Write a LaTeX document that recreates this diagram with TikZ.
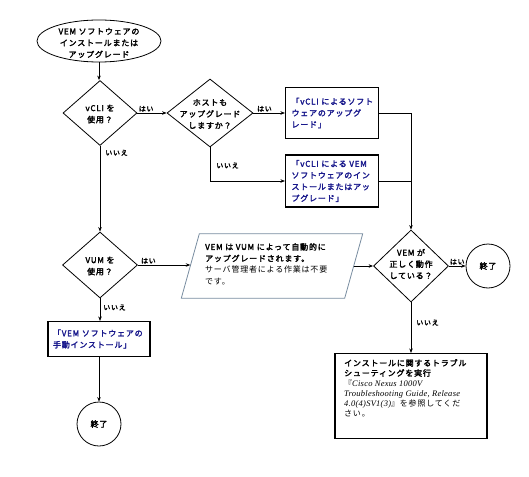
\documentclass[tikz,border=0pt]{standalone}
\usepackage{fontspec}
\setmainfont{Noto Sans CJK JP}[AutoFakeBold=2.5,LetterSpace=10]
\newfontfamily\lserif{Liberation Serif}[LetterSpace=3]
\usetikzlibrary{shapes.geometric,arrows.meta}
\definecolor{boxblue}{RGB}{25,25,140}
\definecolor{paragray}{RGB}{120,140,160}
\begin{document}
\begin{tikzpicture}[x=1pt,y=-1pt,
  txt/.style={font=\fontsize{8}{11.5}\selectfont\bfseries, inner sep=0pt},
  dia/.style={diamond, draw, line width=0.8pt, inner sep=0pt},
  box/.style={rectangle, draw, line width=1.1pt, inner ysep=0pt, inner xsep=6pt, align=left, text=boxblue, font=\fontsize{8}{11.5}\selectfont\bfseries},
  term/.style={circle, draw, line width=0.8pt, minimum size=44pt, inner sep=0pt, font=\fontsize{8}{10}\selectfont\bfseries},
  ln/.style={line width=0.7pt},
  arr/.style={ln, -{Stealth[length=4.5pt,width=3.5pt]}},
  lab/.style={font=\fontsize{7}{8}\selectfont\bfseries, inner sep=1pt}
]
\useasboundingbox (0,0) rectangle (529,476);

% start
\node[ellipse, draw, line width=0.8pt, minimum width=124pt, minimum height=42pt, inner sep=0pt] (start) at (99,41) {};
\node[txt, align=center] (starttext) at (99,43) {VEM~ソフトウェアの\\インストールまたは\\アップグレード};

% decisions
\node[dia, minimum width=74pt, minimum height=65pt] (d1) at (100,113) {};
\node[txt, align=center] (d1t) at (100,114) {vCLI~を\\使用？};
\node[dia, minimum width=86pt, minimum height=68pt] (d2) at (210,113) {};
\node[txt, align=center] (d2t) at (210,114) {ホストも\\アップグレード\\しますか？};
\node[dia, minimum width=75pt, minimum height=66pt] (d3) at (100,265) {};
\node[txt, align=center] (d3t) at (100,266) {VUM~を\\使用？};
\node[dia, minimum width=75pt, minimum height=72pt] (d4) at (411,266) {};
\node[txt, align=center] (d4t) at (411,264) {VEM~が\\正しく動作\\している？};

% boxes
\node[box, minimum width=93pt, minimum height=51pt, text width=81pt] (b1) at (332,113) {「vCLI~によるソフト\\ウェアのアップグ\\レード」};
\node[box, minimum width=93pt, minimum height=52pt, text width=81pt] (b2) at (332,181) {「vCLI~による~VEM\\ソフトウェアのイン\\ストールまたはアッ\\プグレード」};
\node[box, minimum width=102pt, minimum height=35pt, text width=92pt, inner xsep=5pt] (mb) at (99,339) {「VEM~ソフトウェアの\\手動インストール」};
\node[rectangle, draw, line width=1.1pt, minimum width=152pt, minimum height=85pt, inner sep=0pt] (ts) at (411,396) {};
\node[txt, anchor=north west, align=left, font=\fontsize{8}{10}\selectfont] (tst) at (344,359) {\bfseries インストールに関するトラブル\\\bfseries シューティングを実行\\『{\lserif\itshape\fontsize{8.5}{10}\selectfont Cisco Nexus 1000V}\\{\lserif\itshape\fontsize{8.5}{10}\selectfont Troubleshooting Guide, Release}\\{\lserif\itshape\fontsize{8.5}{10}\selectfont 4.0(4)SV1(3)}』を参照してくだ\\さい。};

% parallelogram
\node[minimum width=163pt, minimum height=64pt, inner sep=0pt] (para) at (272,266) {};
\draw[paragray, line width=0.8pt] ([xshift=-9pt]para.south west) -- ([xshift=9pt]para.north west) -- ([xshift=9pt]para.north east) -- ([xshift=-9pt]para.south east) -- cycle;
\node[txt, align=left, anchor=north west] (parat) at (205,243) {VEM~は~VUM~によって自動的に\\アップグレードされます。\\\mdseries サーバ管理者による作業は不要\\\mdseries です。};

% terminals
\node[term] (end1) at (488,266) {終了};
\node[term] (end2) at (99,424) {終了};

% connectors
\draw[arr] (start.south) -- (start.south |- d1.north);
\draw[arr] (d1.east) -- node[lab, above, pos=0.3] (l1) {はい} (d2.west);
\draw[arr] (d2.east) -- node[lab, above, pos=0.35] (l2) {はい} (b1.west);
\draw[arr] (d2.south) |- node[lab, anchor=west, pos=0.27, xshift=5pt] (l3) {いいえ} (b2.west);
\draw[arr] (d1.south) -- node[lab, anchor=west, pos=0.08, xshift=4pt] (l4) {いいえ} (d3.north);
\draw[arr] (b1.east) -| (d4.north);
\draw[ln] (b2.east) -- (b2.east -| d4.north);
\draw[arr] (d3.east) -- node[lab, above, pos=0.2] (l5) {はい} (d3.east -| para.west);
\draw[arr] (para.east) -- (d4.west);
\draw[arr] (d4.east) -- node[lab, above, pos=0.5] (l6) {はい} (end1.west);
\draw[arr] (d4.south) -- node[lab, anchor=west, pos=0.4, xshift=4pt] (l7) {いいえ} (ts.north);
\draw[arr] (d3.south) -- node[lab, anchor=west, pos=0.4, xshift=2pt] (l8) {いいえ} (d3.south |- mb.north);
\draw[arr] (mb.south) -- (end2.north);
\end{tikzpicture}
\end{document}
